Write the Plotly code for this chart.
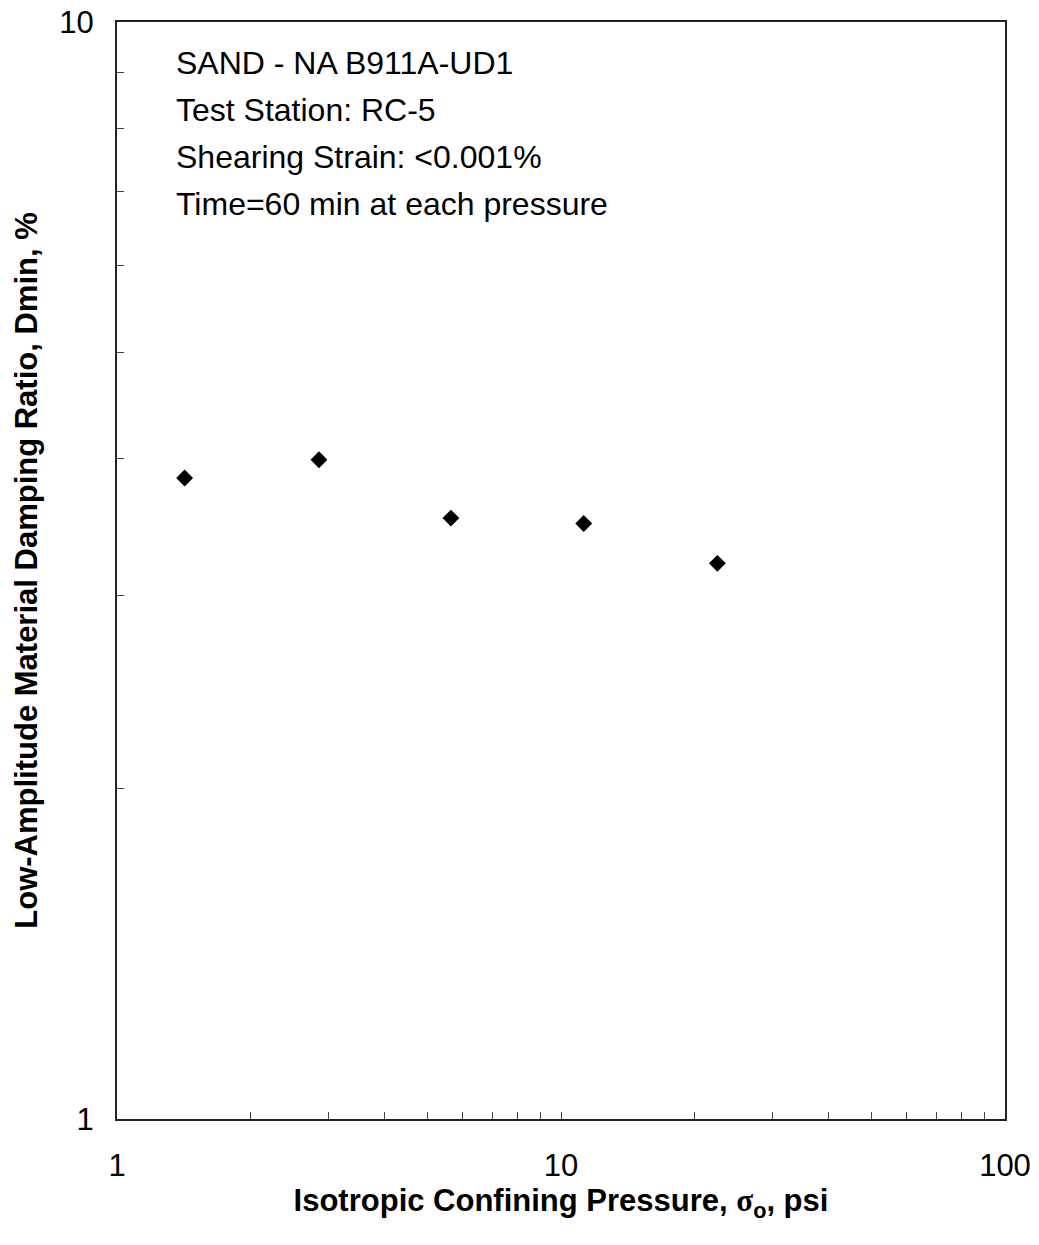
import plotly.graph_objects as go

# Isotropic confining pressure (psi) and low-amplitude damping ratio (%)
pressure_psi = [1.42, 2.85, 5.65, 11.25, 22.5]
dmin_pct = [3.84, 3.99, 3.53, 3.49, 3.21]

# Labelled decades; the in-between log steps get unlabelled ticks
x_decades = [1, 10, 100]
y_decades = [1, 10]

info_lines = [
    "SAND - NA B911A-UD1",
    "Test Station: RC-5",
    "Shearing Strain: <0.001%",
    "Time=60 min at each pressure",
]

FONT = "Liberation Sans, Arial, sans-serif"


def log_ticks(decades):
    vals, text = [], []
    for i, d in enumerate(decades):
        vals.append(d)
        text.append(str(d))
        if i < len(decades) - 1:
            for m in range(2, 10):
                vals.append(d * m)
                text.append("")
    return vals, text


x_vals, x_text = log_ticks(x_decades)
y_vals, y_text = log_ticks(y_decades)

fig = go.Figure()
fig.add_trace(go.Scatter(
    x=pressure_psi, y=dmin_pct, mode="markers",
    marker=dict(symbol="diamond", size=13, color="black"),
    showlegend=False,
))

for i, line in enumerate(info_lines):
    fig.add_annotation(
        xref="paper", yref="paper", x=0.064, y=1 - (41 + 47 * i) / 1097,
        text=line, showarrow=False, xanchor="left", yanchor="middle",
        font=dict(family=FONT, size=32, color="black"),
    )

axis_common = dict(
    showline=True, linecolor="#222", linewidth=2, mirror=True,
    showgrid=False, zeroline=False, automargin=False,
    ticks="inside", ticklen=7, tickcolor="#444", tickwidth=1,
    tickfont=dict(family=FONT, size=31, color="black"),
)

fig.update_xaxes(
    type="log", range=[0, 2], tickvals=x_vals, ticktext=x_text,
    ticklabelstandoff=18,
    title=dict(
        text="<b>Isotropic Confining Pressure, <span style='font-family:Liberation Serif'>σ</span><sub>o</sub>, psi</b>",
        font=dict(family=FONT, size=31, color="black"), standoff=3,
    ),
    **axis_common,
)
fig.update_yaxes(
    type="log", range=[0, 1], tickvals=y_vals, ticktext=y_text,
    ticklabelstandoff=15,
    title=dict(
        text="<b>Low-Amplitude Material Damping Ratio, Dmin, %</b>",
        font=dict(family=FONT, size=31, color="black"), standoff=12,
    ),
    **axis_common,
)

fig.update_layout(
    width=1039, height=1245,
    margin=dict(l=117, r=34, t=22, b=126),
    plot_bgcolor="white", paper_bgcolor="white",
)

fig.write_html("out.html")
